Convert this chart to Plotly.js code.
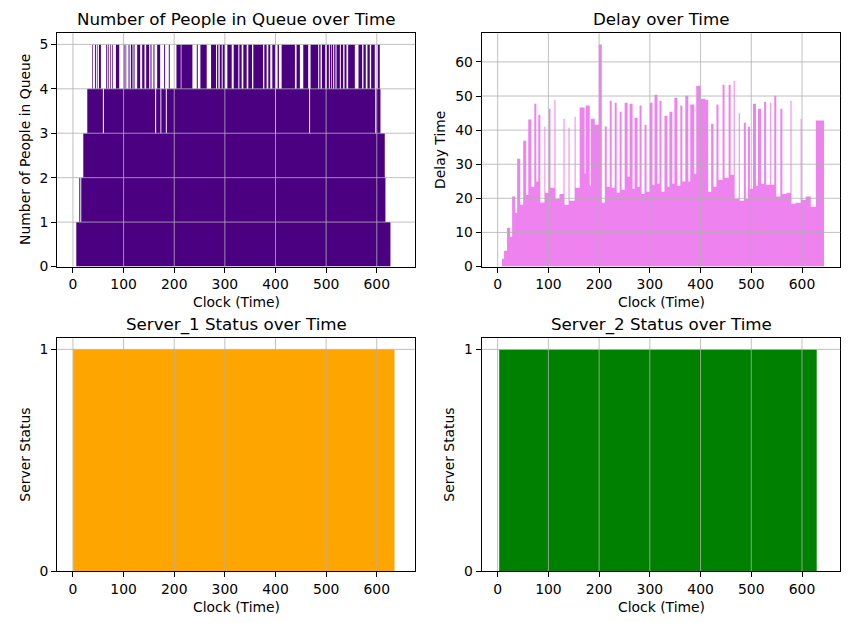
<!doctype html>
<html>
<head>
    <meta charset="utf-8">
    <title>Queue simulation</title>
    <style>
        body {margin: 0; background: white;}
    </style>
    <script src="https://cdn.plot.ly/plotly-3.0.1.min.js"></script>
</head>
<body>
<div id="chart" style="width:867px;height:623px;"></div>
<script>
    // ====== DATA ==================================================
    let xTicks = [0, 100, 200, 300, 400, 500, 600];
    let queueTicks = [0, 1, 2, 3, 4, 5];
    let delayTicks = [0, 10, 20, 30, 40, 50, 60];
    let statusTicks = [0, 1];

    // queue length, held from each clock value until the next one
    let queueTimes = [0, 6.6, 12.5, 14.5, 16.4, 20.4, 28.3, 38.1, 39.4, 43.4, 45.3, 47.3, 48.6, 51.3, 55.2,
        59.1, 61.1, 65.7, 67.7, 69.7, 71.0, 73.6, 74.9, 77.5, 78.9, 84.8, 91.4, 99.9, 101.9, 103.8, 105.2,
        109.8, 111.7, 114.4, 117.6, 119.6, 121.6, 126.8, 132.8, 136.7, 141.3, 144.6, 150.5, 153.1, 155.1,
        159.0, 161.0, 162.3, 164.3, 166.3, 172.2, 172.8, 174.5, 180.1, 182.0, 183.4, 185.3, 189.3, 191.2,
        204.4, 212.9, 214.2, 235.9, 244.5, 246.5, 251.7, 264.2, 272.7, 282.6, 284.6, 287.2, 289.8, 293.8,
        295.7, 300.3, 304.9, 313.5, 317.4, 326.6, 328.6, 333.2, 336.5, 343.1, 346.3, 353.6, 356.2, 375.3,
        377.9, 382.5, 385.8, 389.7, 393.7, 398.9, 399.5, 401.0, 404.2, 406.8, 412.1, 438.4, 441.6, 448.2,
        454.8, 464.6, 466.5, 468.3, 469.2, 484.4, 486.3, 489.0, 491.6, 498.2, 501.4, 505.4, 507.4, 510.0,
        511.3, 513.9, 515.9, 518.5, 520.5, 527.1, 529.0, 533.6, 536.3, 540.2, 543.5, 556.7, 563.9, 571.1,
        573.7, 578.3, 581.6, 586.2, 588.9, 596.1, 597.0, 599.0, 602.0, 605.9, 607.3, 615.8, 617.1, 627.0];
    let queueLen = [0, 1, 2, 1, 2, 3, 4, 5, 4, 5, 4, 5, 4, 5, 4,
        3, 4, 5, 4, 5, 4, 5, 4, 5, 4, 5, 4, 5, 4, 5, 4,
        5, 4, 5, 4, 5, 4, 5, 4, 5, 4, 5, 4, 5, 4,
        5, 4, 3, 4, 5, 4, 3, 4, 5, 4, 3, 4, 5, 4,
        5, 4, 5, 4, 5, 4, 5, 4, 5, 4, 5, 4, 5, 4,
        5, 4, 5, 4, 5, 4, 5, 4, 5, 4, 5, 4, 5, 4,
        5, 4, 5, 4, 5, 4, 3, 4, 5, 4, 5, 4, 5, 4,
        5, 4, 3, 4, 5, 4, 5, 4, 5, 4, 5, 4, 5, 4,
        5, 4, 5, 4, 5, 4, 5, 4, 5, 4, 5, 4, 5, 4,
        5, 4, 5, 4, 5, 4, 3, 4, 5, 4, 3, 2, 1, 0];

    // delay of each customer, drawn from its clock value until the next one
    let delayTimes = [8.6, 12.6, 18.5, 24.5, 28.5, 34.4, 38.4, 44.4, 50.3, 56.3, 60.3, 66.2, 72.2, 76.2,
        80.1, 84.1, 92.1, 94.0, 100.7, 104.0, 111.9, 113.9, 121.9, 129.8, 131.8, 139.7, 141.7, 151.7, 153.6,
        161.6, 171.5, 173.5, 181.5, 183.4, 191.4, 199.3, 205.3, 211.2, 215.0, 220.9, 224.8, 230.7, 234.6,
        240.5, 244.4, 250.3, 256.2, 260.1, 266.0, 269.9, 275.8, 279.7, 283.7, 289.5, 293.5, 300.0, 305.2,
        309.2, 315.0, 319.0, 322.9, 328.8, 334.6, 338.6, 344.4, 348.4, 354.2, 360.1, 364.1, 369.9, 375.8,
        379.7, 387.6, 391.5, 400.7, 409.2, 415.0, 420.9, 425.5, 431.3, 435.3, 443.3, 447.3, 455.3, 459.3,
        465.3, 467.3, 475.3, 477.3, 485.3, 489.3, 493.3, 497.3, 503.3, 509.3, 513.3, 519.3, 525.3, 529.3,
        537.3, 539.3, 545.3, 549.3, 557.3, 561.3, 569.3, 577.3, 579.3, 587.3, 597.3, 599.3, 607.3, 617.3,
        627.3, 643.3];
    let delayValues = [2.3, 4.6, 11.4, 8.7, 20.5, 15.8, 31.6, 18.1, 36.9, 21.0, 43.1, 23.4, 47.7, 24.9,
        44.5, 18.8, 41.0, 21.6, 46.3, 23.1, 48.9, 19.9, 21.3, 43.3, 18.1, 40.7, 19.3, 43.9, 23.1,
        46.6, 27.3, 47.2, 23.7, 43.3, 41.6, 65.1, 18.7, 41.1, 23.4, 48.6, 23.1, 48.0, 21.6,
        45.4, 22.5, 48.0, 26.3, 47.7, 22.8, 43.6, 23.4, 47.2, 21.3, 41.6, 21.9, 48.0, 24.0,
        50.4, 24.3, 48.6, 21.9, 44.2, 23.4, 45.4, 24.3, 49.5, 23.7, 47.2, 24.9, 50.1, 24.9,
        47.5, 27.2, 53.0, 49.2, 48.9, 21.9, 41.9, 23.4, 47.5, 25.4, 53.3, 26.0, 53.3, 26.9,
        54.5, 19.9, 45.1, 19.3, 42.2, 19.9, 41.0, 22.8, 47.7, 23.7, 46.3, 24.3, 48.3, 24.0,
        48.0, 24.0, 50.1, 20.5, 46.3, 21.3, 21.6, 48.6, 18.4, 18.7, 43.3, 19.6, 20.5, 17.5,
        42.8, 0];

    let server1Times = [0.5, 635];
    let server1Status = [1, 0];
    let server2Times = [3, 629];
    let server2Status = [1, 0];

    // ====== SETTINGS ==================================================
    let font = 'DejaVu Sans';
    let xRange = [-31.5, 675.5];

    function axisStyle(extra) {
        return Object.assign({
            showgrid: false,
            zeroline: false,
            showline: true,
            mirror: true,
            linecolor: 'black',
            linewidth: 1,
            ticks: 'outside',
            ticklen: 5,
            tickwidth: 1,
            tickcolor: 'black',
            tickfont: {family: font, size: 13.9, color: 'black'},
            fixedrange: true,
        }, extra);
    }

    function stepTrace(x, y, color, xa, ya) {
        return {
            x: x,
            y: y,
            xaxis: xa,
            yaxis: ya,
            type: 'scatter',
            mode: 'lines',
            line: {shape: 'hv', width: 0, color: color},
            fill: 'tozeroy',
            fillcolor: color,
            hoverinfo: 'skip',
            showlegend: false,
        };
    }

    let traces = [
        stepTrace(queueTimes, queueLen, '#4B0082', 'x', 'y'),
        stepTrace(delayTimes, delayValues, '#EE82EE', 'x2', 'y2'),
        stepTrace(server1Times, server1Status, '#FFA500', 'x3', 'y3'),
        stepTrace(server2Times, server2Status, '#008000', 'x4', 'y4'),
    ];

    let W = 867, H = 623;
    let colX = [[57, 415], [481.7, 840.3]];
    let rowY = [[33.3, 266.5], [338.3, 571]];
    function dx(c) { return [colX[c][0] / W, colX[c][1] / W]; }
    function dy(r) { return [1 - rowY[r][1] / H, 1 - rowY[r][0] / H]; }

    let layout = {
        width: W,
        height: H,
        margin: {l: 0, r: 0, t: 0, b: 0},
        paper_bgcolor: 'white',
        plot_bgcolor: 'white',
        showlegend: false,
        font: {family: font, color: 'black'},
        xaxis: axisStyle({domain: dx(0), anchor: 'y', range: xRange, tickvals: xTicks}),
        yaxis: axisStyle({domain: dy(0), anchor: 'x', range: [0, 5.25], tickvals: queueTicks}),
        xaxis2: axisStyle({domain: dx(1), anchor: 'y2', range: xRange, tickvals: xTicks}),
        yaxis2: axisStyle({domain: dy(0), anchor: 'x2', range: [0, 68.4], tickvals: delayTicks}),
        xaxis3: axisStyle({domain: dx(0), anchor: 'y3', range: xRange, tickvals: xTicks}),
        yaxis3: axisStyle({domain: dy(1), anchor: 'x3', range: [0, 1.05], tickvals: statusTicks}),
        xaxis4: axisStyle({domain: dx(1), anchor: 'y4', range: xRange, tickvals: xTicks}),
        yaxis4: axisStyle({domain: dy(1), anchor: 'x4', range: [0, 1.05], tickvals: statusTicks}),
        shapes: [],
        annotations: [],
    };

    // grid lines drawn over the bars, as matplotlib does
    let panels = [['x', 'y', queueTicks], ['x2', 'y2', delayTicks], ['x3', 'y3', statusTicks], ['x4', 'y4', statusTicks]];
    let gridLine = {color: '#b0b0b0', width: 0.8};
    panels.forEach(function (p) {
        xTicks.forEach(function (t) {
            layout.shapes.push({type: 'line', layer: 'above', xref: p[0], yref: p[1] + ' domain',
                x0: t, x1: t, y0: 0, y1: 1, line: gridLine});
        });
        p[2].forEach(function (t) {
            if (t === 0) return;
            layout.shapes.push({type: 'line', layer: 'above', xref: p[0] + ' domain', yref: p[1],
                x0: 0, x1: 1, y0: t, y1: t, line: gridLine});
        });
    });

    function label(text, xPx, yPx, size, angle) {
        layout.annotations.push({
            text: text, xref: 'paper', yref: 'paper', x: xPx / W, y: 1 - yPx / H,
            xanchor: 'center', yanchor: 'middle', showarrow: false, textangle: angle || 0,
            font: {family: font, size: size, color: 'black'},
        });
    }

    let colMid = [(colX[0][0] + colX[0][1]) / 2, (colX[1][0] + colX[1][1]) / 2];
    let rowMid = [(rowY[0][0] + rowY[0][1]) / 2, (rowY[1][0] + rowY[1][1]) / 2];

    label('Number of People in Queue over Time', colMid[0], 19, 16.7);
    label('Delay over Time', colMid[1], 19, 16.7);
    label('Server_1 Status over Time', colMid[0], 324, 16.7);
    label('Server_2 Status over Time', colMid[1], 324, 16.7);

    label('Clock (Time)', colMid[0], 302, 13.9);
    label('Clock (Time)', colMid[1], 302, 13.9);
    label('Clock (Time)', colMid[0], 607, 13.9);
    label('Clock (Time)', colMid[1], 607, 13.9);

    label('Number of People in Queue', 25, rowMid[0], 13.9, -90);
    label('Delay Time', 440, rowMid[0], 13.9, -90);
    label('Server Status', 25, rowMid[1], 13.9, -90);
    label('Server Status', 449, rowMid[1], 13.9, -90);

    let config = {displayModeBar: false, staticPlot: true};

    Plotly.newPlot(document.getElementById('chart'), traces, layout, config);
</script>
</body>
</html>
